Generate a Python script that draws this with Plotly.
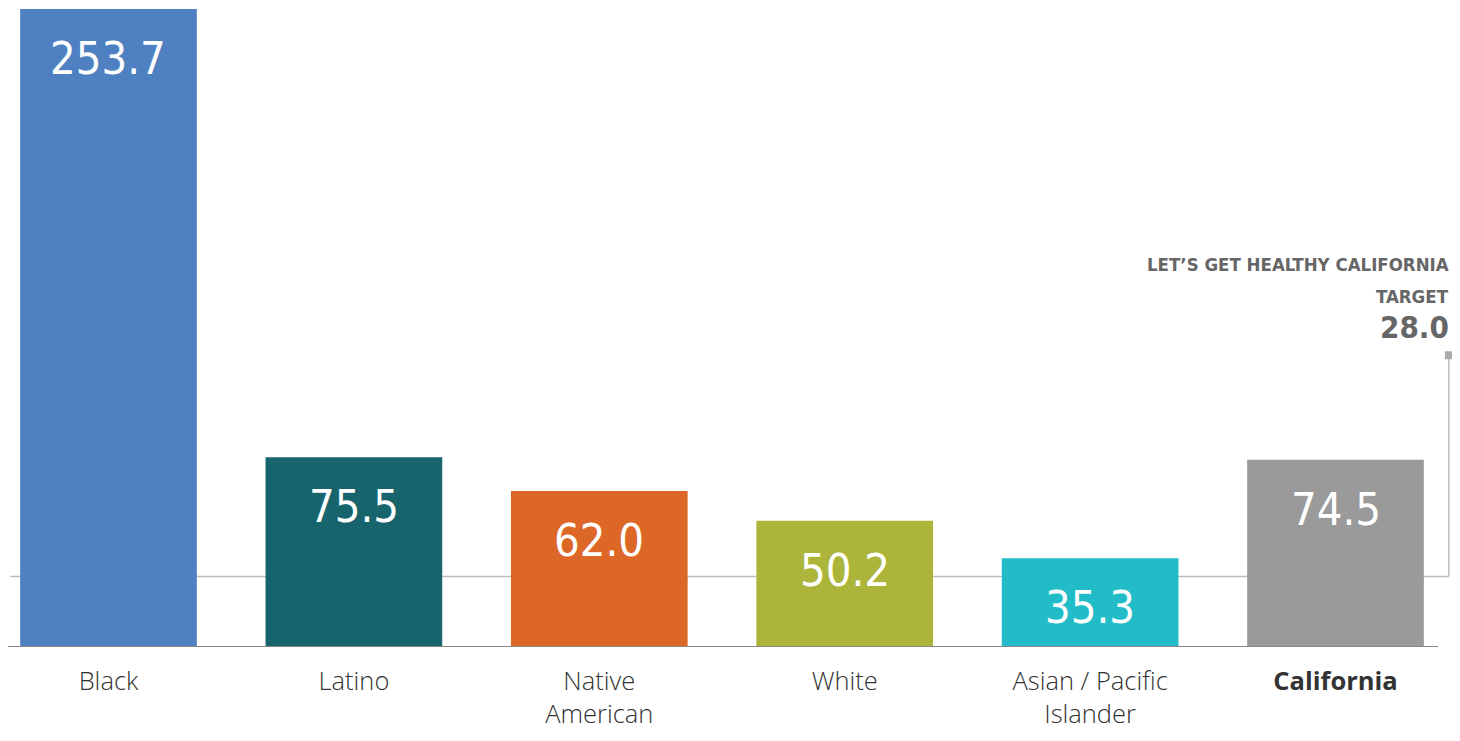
import plotly.graph_objects as go

# data
groups = ["Black", "Latino", "Native<br>American", "White", "Asian / Pacific<br>Islander", "<b>California</b>"]
rates = [253.7, 75.5, 62.0, 50.2, 35.3, 74.5]
rate_labels = ["253.7", "75.5", "62.0", "50.2", "35.3", "74.5"]
bar_colors = ["#4F81C2", "#17646C", "#DC6727", "#ACB53A", "#22BCC8", "#9A9A9A"]
target = 28.0
target_lines = ["LET\u2019S GET HEALTHY CALIFORNIA", "TARGET"]

xpos = list(range(len(groups)))
narrow = "DejaVu Sans Condensed, Liberation Sans Narrow, sans-serif"

fig = go.Figure()
fig.add_trace(go.Bar(
    x=xpos, y=rates,
    marker=dict(color=bar_colors, line=dict(width=0)),
    width=0.72,
    hoverinfo="skip",
))

# value labels inside bars
for x, v, t in zip(xpos, rates, rate_labels):
    fig.add_annotation(
        x=x, y=v, text=t, showarrow=False,
        yanchor="top", yshift=-21,
        font=dict(family=narrow, size=45, color="white"),
    )

# target line: horizontal at target, then up to the label
x_right = 5.462
y_top = 116
fig.add_shape(type="line", layer="below", x0=-0.4, x1=x_right, y0=target, y1=target,
              line=dict(color="#BDBDBD", width=1.5))
fig.add_shape(type="line", layer="below", x0=x_right, x1=x_right, y0=target, y1=y_top,
              line=dict(color="#BDBDBD", width=1.5))
fig.add_trace(go.Scatter(
    x=[x_right], y=[y_top], mode="markers",
    marker=dict(symbol="square", size=8, color="#AAAAAA"),
    hoverinfo="skip",
))

# target labels (stacked above the marker)
for txt, shift, size in [("%.1f" % target, 28, 31),
                         (target_lines[1], 59, 18.5),
                         (target_lines[0], 91, 18.5)]:
    fig.add_annotation(
        xref="paper", x=1443 / 1444, y=y_top, yshift=shift,
        xanchor="right", yanchor="middle", align="right",
        text=txt, showarrow=False,
        font=dict(family=narrow, size=size, color="#666666", weight="bold"),
    )

# x axis baseline
fig.add_shape(type="line", x0=-0.41, x1=5.418, y0=0, y1=0,
              line=dict(color="#888888", width=2))

fig.update_layout(
    width=1444, height=723,
    margin=dict(l=0, r=0, t=1, b=84, autoexpand=False),
    plot_bgcolor="white", paper_bgcolor="white",
    showlegend=False,
    xaxis=dict(
        range=[-0.4095, 5.4747], automargin=False,
        tickmode="array", tickvals=xpos, ticktext=groups,
        showgrid=False, zeroline=False, showline=False,
        ticks="outside", ticklen=11, tickcolor="rgba(0,0,0,0)",
        tickfont=dict(family="Open Sans, sans-serif", size=25.5, color="#333333", weight=300),
    ),
    yaxis=dict(range=[0, 253.7], visible=False, automargin=False,
               showgrid=False, zeroline=False),
)

fig.write_html("out.html")
